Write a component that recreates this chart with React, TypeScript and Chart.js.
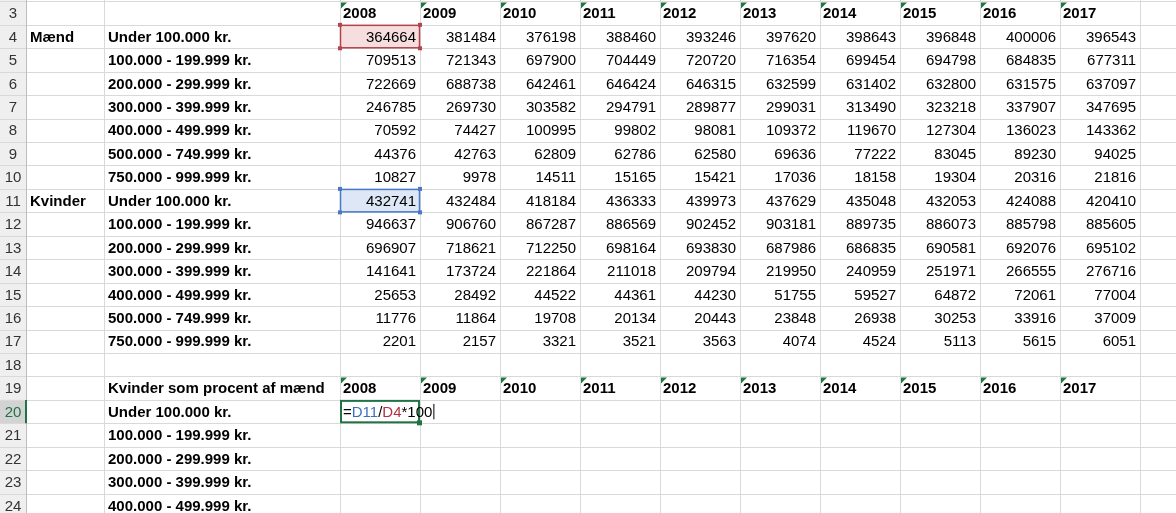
import React, { useEffect, useRef } from "react";
import { Chart, registerables } from "chart.js";
Chart.register(...registerables);

const years = ["2008","2009","2010","2011","2012","2013","2014","2015","2016","2017"];
const bands = ["Under 100.000 kr.","100.000 - 199.999 kr.","200.000 - 299.999 kr.","300.000 - 399.999 kr.","400.000 - 499.999 kr.","500.000 - 749.999 kr.","750.000 - 999.999 kr."];
const men = [
  [364664,381484,376198,388460,393246,397620,398643,396848,400006,396543],
  [709513,721343,697900,704449,720720,716354,699454,694798,684835,677311],
  [722669,688738,642461,646424,646315,632599,631402,632800,631575,637097],
  [246785,269730,303582,294791,289877,299031,313490,323218,337907,347695],
  [70592,74427,100995,99802,98081,109372,119670,127304,136023,143362],
  [44376,42763,62809,62786,62580,69636,77222,83045,89230,94025],
  [10827,9978,14511,15165,15421,17036,18158,19304,20316,21816],
];
const women = [
  [432741,432484,418184,436333,439973,437629,435048,432053,424088,420410],
  [946637,906760,867287,886569,902452,903181,889735,886073,885798,885605],
  [696907,718621,712250,698164,693830,687986,686835,690581,692076,695102],
  [141641,173724,221864,211018,209794,219950,240959,251971,266555,276716],
  [25653,28492,44522,44361,44230,51755,59527,64872,72061,77004],
  [11776,11864,19708,20134,20443,23848,26938,30253,33916,37009],
  [2201,2157,3321,3521,3563,4074,4524,5113,5615,6051],
];
const groupLabels = ["Mænd", "Kvinder"];
const pctTitle = "Kvinder som procent af mænd";
const pctBands = bands.slice(0, 5);

const colEdges = [0, 26, 104, 340, 420, 500, 580, 660, 740, 820, 900, 980, 1060, 1140, 1220];
const FONT = "'Liberation Sans', Arial, sans-serif";

const sheetPlugin = {
  id: "sheet",
  beforeDatasetsDraw(chart: any) {
    const { ctx, scales } = chart;
    const X = (v: number) => scales.x.getPixelForValue(v);
    const Y = (r: number) => scales.y.getPixelForValue(r);
    const cx = (c: number) => X(colEdges[c]);
    ctx.save();
    ctx.fillStyle = "#fff";
    ctx.fillRect(0, 0, chart.width, chart.height);
    // row header
    ctx.fillStyle = "#efefef";
    ctx.fillRect(0, 0, cx(1), chart.height);
    ctx.fillStyle = "#d3d3d3";
    ctx.fillRect(0, Y(20), cx(1), Y(21) - Y(20));
    // highlights
    ctx.fillStyle = "#f7dede";
    ctx.fillRect(cx(3), Y(4), cx(4) - cx(3), Y(5) - Y(4));
    ctx.fillStyle = "#dde7f5";
    ctx.fillRect(cx(3), Y(11), cx(4) - cx(3), Y(12) - Y(11));
    // grid
    ctx.strokeStyle = "#d9d9d9";
    ctx.lineWidth = 1;
    ctx.beginPath();
    for (let r = 3; r <= 25; r++) { const y = Math.round(Y(r)) + 0.5; ctx.moveTo(0, y); ctx.lineTo(chart.width, y); }
    for (let c = 1; c < colEdges.length; c++) { const x = Math.round(cx(c)) + 0.5; ctx.moveTo(x, 0); ctx.lineTo(x, chart.height); }
    ctx.stroke();
    ctx.strokeStyle = "#bdbdbd";
    ctx.beginPath();
    ctx.moveTo(Math.round(cx(1)) + 0.5, 0); ctx.lineTo(Math.round(cx(1)) + 0.5, chart.height);
    ctx.stroke();
    ctx.strokeStyle = "#217346"; ctx.lineWidth = 2;
    ctx.beginPath(); ctx.moveTo(cx(1), Y(20)); ctx.lineTo(cx(1), Y(21)); ctx.stroke();
    // borders for highlighted
    ctx.lineWidth = 1.5;
    ctx.strokeStyle = "#b5434d";
    ctx.strokeRect(cx(3) + 0.5, Y(4) + 0.5, cx(4) - cx(3) - 1, Y(5) - Y(4) - 1);
    ctx.strokeStyle = "#4a78c2";
    ctx.strokeRect(cx(3) + 0.5, Y(11) + 0.5, cx(4) - cx(3) - 1, Y(12) - Y(11) - 1);
    const corners = (c: number, r: number, col: string) => {
      ctx.fillStyle = col;
      for (const x of [cx(c), cx(c + 1)]) for (const y of [Y(r), Y(r + 1)]) ctx.fillRect(x - 2, y - 2, 4, 4);
    };
    corners(3, 4, "#b5434d");
    corners(3, 11, "#4a78c2");
    ctx.lineWidth = 2;
    ctx.strokeStyle = "#217346";
    ctx.strokeRect(cx(3) + 1, Y(20) + 1, cx(4) - cx(3) - 2, Y(21) - Y(20) - 2);
    ctx.fillStyle = "#217346";
    ctx.fillRect(cx(4) - 3, Y(21) - 3, 5, 5);
    // triangles
    for (const r of [3, 19]) for (let i = 0; i < years.length; i++) {
      const x = cx(3 + i) + 1, y = Y(r) + 1;
      ctx.fillStyle = "#1f7a3a";
      ctx.beginPath(); ctx.moveTo(x, y); ctx.lineTo(x + 6, y); ctx.lineTo(x, y + 6); ctx.closePath(); ctx.fill();
    }
    // text
    ctx.textBaseline = "middle";
    const mid = (r: number) => (Y(r) + Y(r + 1)) / 2 + 1;
    ctx.font = `15px ${FONT}`;
    ctx.textAlign = "center";
    for (let r = 3; r <= 24; r++) {
      ctx.fillStyle = r === 20 ? "#217346" : "#333";
      ctx.fillText(String(r), cx(1) / 2, mid(r));
    }
    ctx.textAlign = "left";
    ctx.fillStyle = "#000";
    ctx.font = `bold 15px ${FONT}`;
    for (let i = 0; i < years.length; i++) {
      ctx.fillText(years[i], cx(3 + i) + 3, mid(3));
      ctx.fillText(years[i], cx(3 + i) + 3, mid(19));
    }
    ctx.fillText(groupLabels[0], cx(1) + 4, mid(4));
    ctx.fillText(groupLabels[1], cx(1) + 4, mid(11));
    bands.forEach((b, i) => { ctx.fillText(b, cx(2) + 4, mid(4 + i)); ctx.fillText(b, cx(2) + 4, mid(11 + i)); });
    ctx.fillText(pctTitle, cx(2) + 4, mid(19));
    pctBands.forEach((b, i) => ctx.fillText(b, cx(2) + 4, mid(20 + i)));
    ctx.font = `15px ${FONT}`;
    ctx.textAlign = "right";
    const drawRows = (rows: number[][], start: number) => rows.forEach((row, i) => row.forEach((v, j) => {
      ctx.fillText(String(v), cx(4 + j) - 4, mid(start + i));
    }));
    drawRows(men, 4);
    drawRows(women, 11);
    // formula
    ctx.textAlign = "left";
    const parts: [string, string][] = [["=", "#000"], ["D11", "#3b6fc1"], ["/", "#000"], ["D4", "#b3303f"], ["*100", "#000"]];
    let x = cx(3) + 3;
    for (const [t, c] of parts) { ctx.fillStyle = c; ctx.fillText(t, x, mid(20)); x += ctx.measureText(t).width; }
    ctx.fillStyle = "#000"; ctx.fillRect(x + 1, Y(20) + 4, 1, Y(21) - Y(20) - 8);
    ctx.restore();
  },
};

export default function App() {
  const ref = useRef<HTMLCanvasElement>(null);
  useEffect(() => {
    document.body.style.margin = "0";
    const chart = new Chart(ref.current!, {
      type: "scatter",
      data: { datasets: [{ data: [] }] },
      options: {
        animation: false, responsive: false, events: [],
        layout: { padding: 0 },
        plugins: { legend: { display: false }, tooltip: { enabled: false } },
        scales: {
          x: { type: "linear", min: 0, max: 1176, display: false },
          y: { type: "linear", min: 2.94, max: 2.94 + 513 / 23.44, reverse: true, display: false },
        },
      },
      plugins: [sheetPlugin],
    });
    return () => chart.destroy();
  }, []);
  return <canvas ref={ref} width={1176} height={513} style={{ display: "block" }} />;
}
